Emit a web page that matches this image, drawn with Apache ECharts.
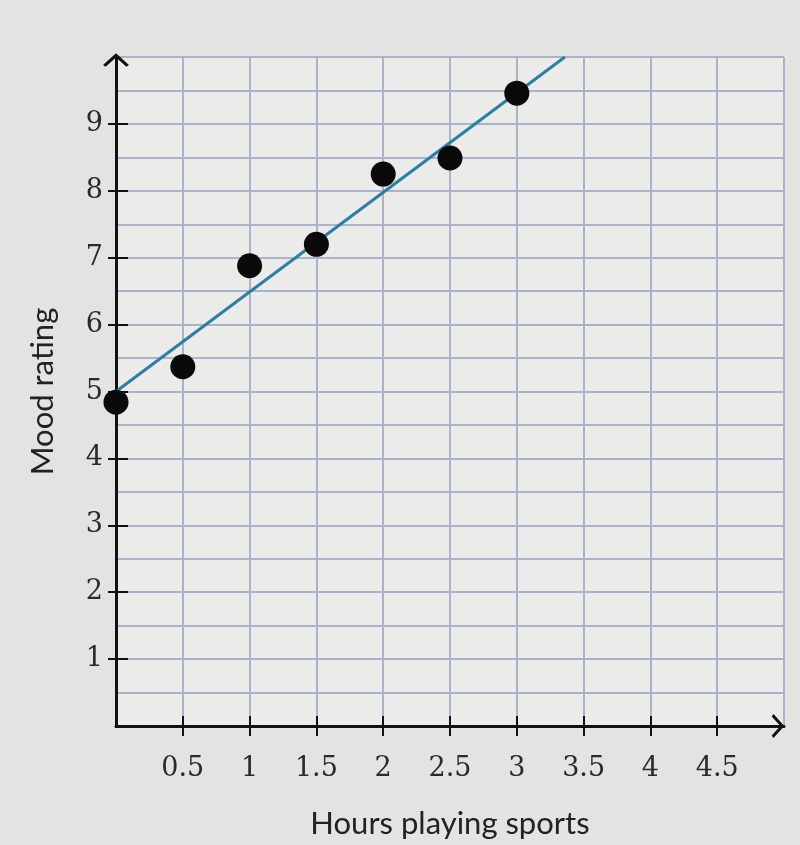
<!DOCTYPE html>
<html>
<head>
<meta charset="utf-8">
<script src="https://cdn.jsdelivr.net/npm/echarts@6/dist/echarts.min.js"></script>
<style>
html,body{margin:0;padding:0;background:#e3e3e1;}
#chart{width:800px;height:845px;}
</style>
</head>
<body>
<div id="chart"></div>
<script>
var hours = [0, 0.5, 1, 1.5, 2, 2.5, 3];
var mood = [4.84, 5.37, 6.88, 7.2, 8.25, 8.49, 9.46];
var fitLine = [[0, 5], [3.36, 10]];
var xTickLabels = [0.5, 1, 1.5, 2, 2.5, 3, 3.5, 4, 4.5];
var yTickLabels = [1, 2, 3, 4, 5, 6, 7, 8, 9];
var xTitle = 'Hours playing sports';
var yTitle = 'Mood rating';

var chevron = 'path://M0,9 L10,0 L20,9 L18,10.5 L10,3.3 L2,10.5 Z';
var gridColor = '#a9b4ca';
var labelFont = { fontFamily: 'DejaVu Serif', fontSize: 27, color: '#2a2a2a' };

var chart = echarts.init(document.getElementById('chart'));
chart.setOption({
  backgroundColor: '#e3e3e1',
  animation: false,
  grid: { left: 116, right: 16, top: 57, bottom: 119, show: true, backgroundColor: '#ebebe9', borderWidth: 0 },
  xAxis: [
    { type: 'value', min: 0, max: 5, interval: 0.5,
      axisLine: { show: false }, axisTick: { show: false }, axisLabel: { show: false },
      splitLine: { show: true, lineStyle: { color: gridColor, width: 2 } } },
    { type: 'value', min: 0, max: 5, interval: 0.5, position: 'bottom',
      axisLine: { show: true, onZero: false, symbol: ['none', chevron], symbolSize: [24, 14], symbolOffset: [0, -6], lineStyle: { color: '#111', width: 3 } },
      axisTick: { show: true, customValues: xTickLabels, length: 10, lineStyle: { color: '#111', width: 2 } },
      axisLabel: Object.assign({ show: true, customValues: xTickLabels, margin: 29 }, labelFont),
      splitLine: { show: false },
      name: xTitle, nameLocation: 'middle', nameGap: 82,
      nameTextStyle: { fontFamily: 'Lato', fontSize: 31, color: '#222' } },
    { type: 'value', min: 0, max: 5, interval: 0.5, position: 'bottom',
      axisLine: { show: false, onZero: false },
      axisTick: { show: true, inside: true, customValues: xTickLabels, length: 10, lineStyle: { color: '#111', width: 2 } },
      axisLabel: { show: false }, splitLine: { show: false } }
  ],
  yAxis: [
    { type: 'value', min: 0, max: 10, interval: 0.5,
      axisLine: { show: false }, axisTick: { show: false }, axisLabel: { show: false },
      splitLine: { show: true, lineStyle: { color: gridColor, width: 2 } } },
    { type: 'value', min: 0, max: 10, interval: 1, position: 'left',
      axisLine: { show: true, onZero: false, symbol: ['none', chevron], symbolSize: [26, 15], symbolOffset: [0, -3], lineStyle: { color: '#111', width: 3 } },
      axisTick: { show: true, customValues: yTickLabels, length: 8, lineStyle: { color: '#111', width: 2 } },
      axisLabel: Object.assign({ show: true, customValues: yTickLabels, margin: 13 }, labelFont),
      splitLine: { show: false },
      name: yTitle, nameLocation: 'middle', nameGap: 58, nameRotate: 90,
      nameTextStyle: { fontFamily: 'Lato', fontSize: 31, color: '#222' } },
    { type: 'value', min: 0, max: 10, interval: 1, position: 'left',
      axisLine: { show: false, onZero: false },
      axisTick: { show: true, inside: true, customValues: yTickLabels, length: 12, lineStyle: { color: '#111', width: 2 } },
      axisLabel: { show: false }, splitLine: { show: false } }
  ],
  series: [
    { type: 'line', xAxisIndex: 0, yAxisIndex: 0, data: fitLine, showSymbol: false, symbol: 'none',
      lineStyle: { color: '#2b7fa6', width: 3 }, z: 3 },
    { type: 'scatter', xAxisIndex: 0, yAxisIndex: 0,
      data: hours.map(function (h, i) { return [h, mood[i]]; }),
      symbolSize: 25, itemStyle: { color: '#0a0a0a', opacity: 1 }, z: 4 }
  ]
});
</script>
</body>
</html>
